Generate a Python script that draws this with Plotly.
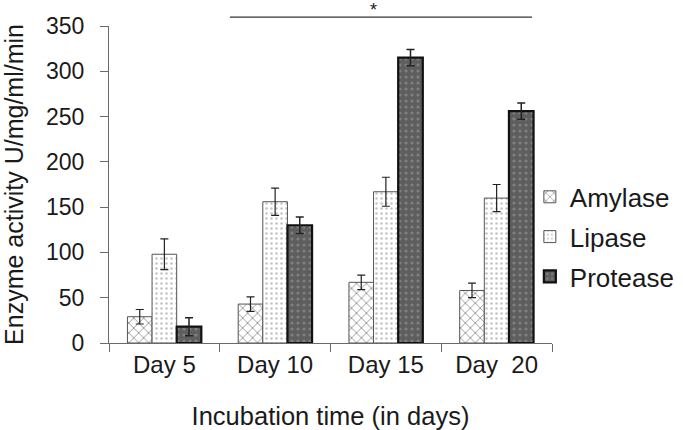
import plotly.graph_objects as go

days = ["Day 5", "Day 10", "Day 15", "Day\u00a0 20"]
amylase = [29, 43, 67, 58]
amylase_err = [8, 8, 8, 8]
lipase = [98, 156, 167, 160]
lipase_err = [17, 15, 16, 15]
protease = [18, 130, 315, 256]
protease_err = [10, 9, 9, 9]
y_ticks = [0, 50, 100, 150, 200, 250, 300, 350]

FONT = "Arial, Liberation Sans, sans-serif"
TXT = "#1a1a1a"
AX = "#6a6a6a"

fig = go.Figure()
fig.add_trace(go.Bar(
    name="Amylase", x=days, y=amylase, legendgroup="a",
    error_y=dict(type="data", array=amylase_err, color="#222", thickness=1.2, width=4),
    marker=dict(color="white", line=dict(color="#555", width=1),
                pattern=dict(shape="x", bgcolor="white", fgcolor="#333333", size=7, solidity=0.25)),
))
fig.add_trace(go.Bar(
    name="Lipase", x=days, y=lipase, legendgroup="b",
    error_y=dict(type="data", array=lipase_err, color="#222", thickness=1.2, width=4),
    marker=dict(color="white", line=dict(color="#555", width=1),
                pattern=dict(shape=".", bgcolor="white", fgcolor="#888888", size=5, solidity=0.2)),
))
fig.add_trace(go.Bar(
    name="Protease", x=days, y=protease, legendgroup="c",
    error_y=dict(type="data", array=protease_err, color="#222", thickness=1.5, width=4),
    marker=dict(color="#5e5e5e", line=dict(color="#111", width=2.2),
                pattern=dict(shape=".", bgcolor="#5e5e5e", fgcolor="#a0a0a0", size=6, solidity=0.22)),
))

fig.update_layout(
    width=683, height=430,
    margin=dict(l=109, r=131, t=26, b=87, autoexpand=False),
    paper_bgcolor="white", plot_bgcolor="white",
    barmode="group", bargap=0.333, bargroupgap=0,
    font=dict(family=FONT, color=TXT, size=23),
    showlegend=True,
    legend=dict(x=0.95, xanchor="left", y=0.535, yanchor="top",
                font=dict(family=FONT, size=26, color=TXT),
                traceorder="grouped", tracegroupgap=3,
                bgcolor="rgba(0,0,0,0)", borderwidth=0),
    xaxis=dict(
        automargin=False,
        showline=True, linecolor=AX, linewidth=1.3,
        ticks="outside", tickson="boundaries", ticklen=8, tickcolor=AX, tickwidth=1.3,
        tickfont=dict(size=24, family=FONT, color=TXT),
        title=dict(text="Incubation time (in days)", font=dict(size=25.5, family=FONT, color=TXT), standoff=30),
        showgrid=False, zeroline=False,
    ),
    yaxis=dict(
        automargin=False,
        range=[0, 350], tickvals=y_ticks,
        showline=True, linecolor=AX, linewidth=1.3,
        ticks="outside", ticklen=8, tickcolor=AX, tickwidth=1.3, ticklabelstandoff=11,
        tickfont=dict(size=23, family=FONT, color=TXT),
        title=dict(text="Enzyme activity U/mg/ml/min", font=dict(size=25, family=FONT, color=TXT), standoff=24),
        showgrid=False, zeroline=False,
    ),
    shapes=[dict(type="line", xref="paper", yref="paper", x0=0.273, x1=0.955, y0=1.028, y1=1.028,
                 line=dict(color="#333", width=1.2))],
    annotations=[dict(text="*", xref="paper", yref="paper", x=0.597, y=1.088, showarrow=False,
                      yanchor="top", font=dict(size=18, family=FONT, color=TXT))],
)

fig.write_html("out.html", config={"displayModeBar": False},
               post_script="document.body.style.margin='0';")
